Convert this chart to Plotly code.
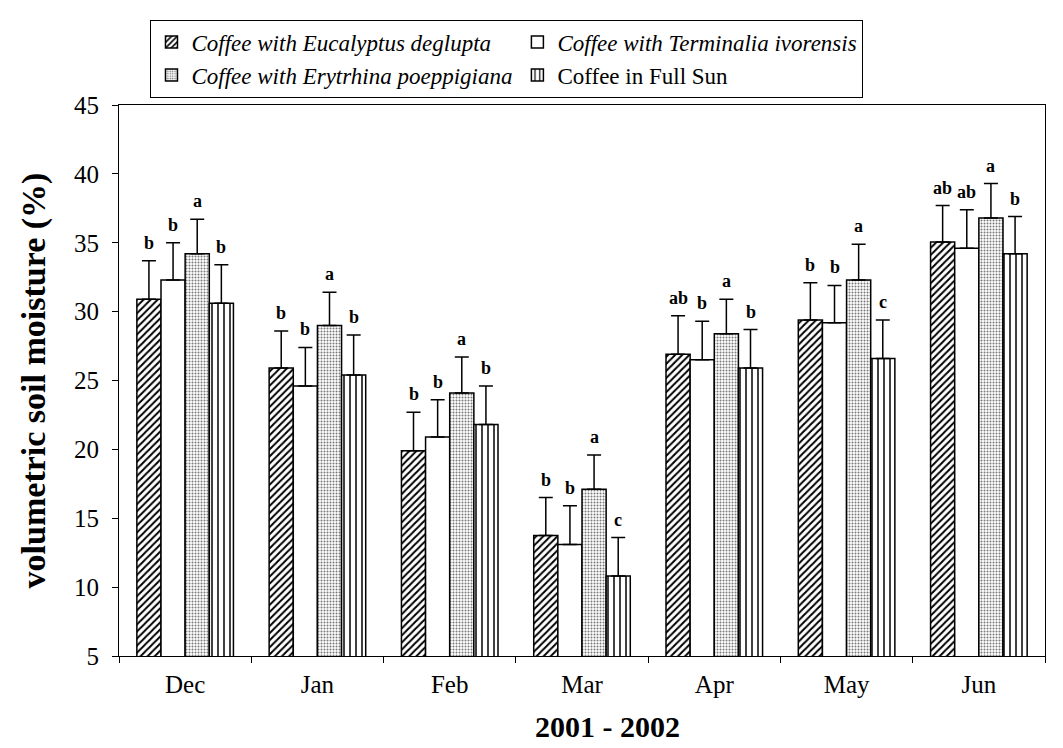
import plotly.graph_objects as go

# ── data ────────────────────────────────────────
months = ["Dec", "Jan", "Feb", "Mar", "Apr", "May", "Jun"]

euc      = [30.9, 25.9, 19.9, 13.75, 26.9, 29.4, 35.05]
euc_err  = [2.8, 2.7, 2.8, 2.75, 2.8, 2.7, 2.65]
term     = [32.3, 24.6, 20.9, 13.1, 26.5, 29.2, 34.6]
term_err = [2.7, 2.8, 2.7, 2.8, 2.8, 2.7, 2.8]
ery      = [34.2, 29.0, 24.1, 17.1, 28.4, 32.3, 36.8]
ery_err  = [2.5, 2.4, 2.6, 2.5, 2.5, 2.6, 2.5]
sun      = [30.6, 25.4, 21.8, 10.8, 25.9, 26.6, 34.2]
sun_err  = [2.8, 2.9, 2.8, 2.8, 2.8, 2.8, 2.7]

euc_sig  = ["b", "b", "b", "b", "ab", "b", "ab"]
term_sig = ["b", "b", "b", "b", "b", "b", "ab"]
ery_sig  = ["a", "a", "a", "a", "a", "a", "a"]
sun_sig  = ["b", "b", "b", "c", "b", "c", "b"]

y_ticks = [5, 10, 15, 20, 25, 30, 35, 40, 45]

# ── series styling ──────────────────────────────
SERIES = [
    ("<i>Coffee with Eucalyptus deglupta</i>", euc, euc_err, euc_sig,
     dict(shape="/", fgcolor="black", bgcolor="white", size=5, solidity=0.4)),
    ("<i>Coffee with Terminalia ivorensis</i>", term, term_err, term_sig,
     dict(shape="", bgcolor="white")),
    ("<i>Coffee with Erytrhina poeppigiana</i>", ery, ery_err, ery_sig,
     dict(shape=".", fgcolor="#777777", bgcolor="white", size=3, solidity=0.35)),
    ("Coffee in Full Sun", sun, sun_err, sun_sig,
     dict(shape="|", fgcolor="black", bgcolor="white", size=6, solidity=0.25)),
]

SERIF = "Liberation Serif"
BARGAP = 0.27
bar_w = (1 - BARGAP) / len(SERIES)

fig = go.Figure()

for j, (name, vals, errs, sig, pat) in enumerate(SERIES):
    fig.add_trace(go.Bar(
        x=months,
        y=vals,
        name=name,
        marker=dict(color="white", line=dict(color="black", width=1.5),
                    pattern=pat),
        error_y=dict(type="data", array=errs, arrayminus=[0] * len(errs),
                     symmetric=False, color="black", thickness=1.5, width=7),
    ))
    # significance letters above each error bar
    off = (j - (len(SERIES) - 1) / 2) * bar_w
    for i, (v, e, s) in enumerate(zip(vals, errs, sig)):
        fig.add_annotation(
            x=i + off, y=v + e, text=f"<b>{s}</b>",
            showarrow=False, yanchor="middle", yshift=18,
            font=dict(family=SERIF, size=18, color="black"),
        )

# x-axis title sits a little right of centre in the original
fig.add_annotation(
    text="<b>2001 - 2002</b>", xref="paper", yref="paper",
    x=0.528, y=-0.128, xanchor="center", yanchor="middle",
    showarrow=False, font=dict(family=SERIF, size=30, color="black"),
)

fig.update_layout(
    template="none",
    width=1063, height=748,
    paper_bgcolor="white", plot_bgcolor="white",
    barmode="group", bargap=BARGAP, bargroupgap=0,
    font=dict(family=SERIF, size=25, color="black"),
    margin=dict(l=111, r=26, t=88, b=100),
    legend=dict(
        orientation="h",
        x=0.034, xanchor="left",
        y=1.155, yanchor="top",
        font=dict(family=SERIF, size=23, color="black"),
        bordercolor="black", borderwidth=1,
        itemwidth=30,
        tracegroupgap=0,
    ),
    showlegend=True,
)

fig.update_xaxes(
    type="category", automargin=False,
    tickson="boundaries", ticks="outside", ticklen=6, tickcolor="black",
    ticklabelstandoff=6,
    showline=True, linecolor="black", linewidth=1.2, mirror=True,
    showgrid=False,
    tickfont=dict(family=SERIF, size=25),
)
fig.update_yaxes(
    range=[5, 45], tickvals=y_ticks, automargin=False,
    ticks="outside", ticklen=6, tickcolor="black",
    ticklabelstandoff=8,
    showline=True, linecolor="black", linewidth=1.2, mirror=True,
    showgrid=False, zeroline=False,
    tickfont=dict(family=SERIF, size=25),
    title=dict(text="<b>volumetric soil moisture (%)</b>",
               font=dict(family=SERIF, size=34), standoff=18),
)

fig.write_html("out.html")
